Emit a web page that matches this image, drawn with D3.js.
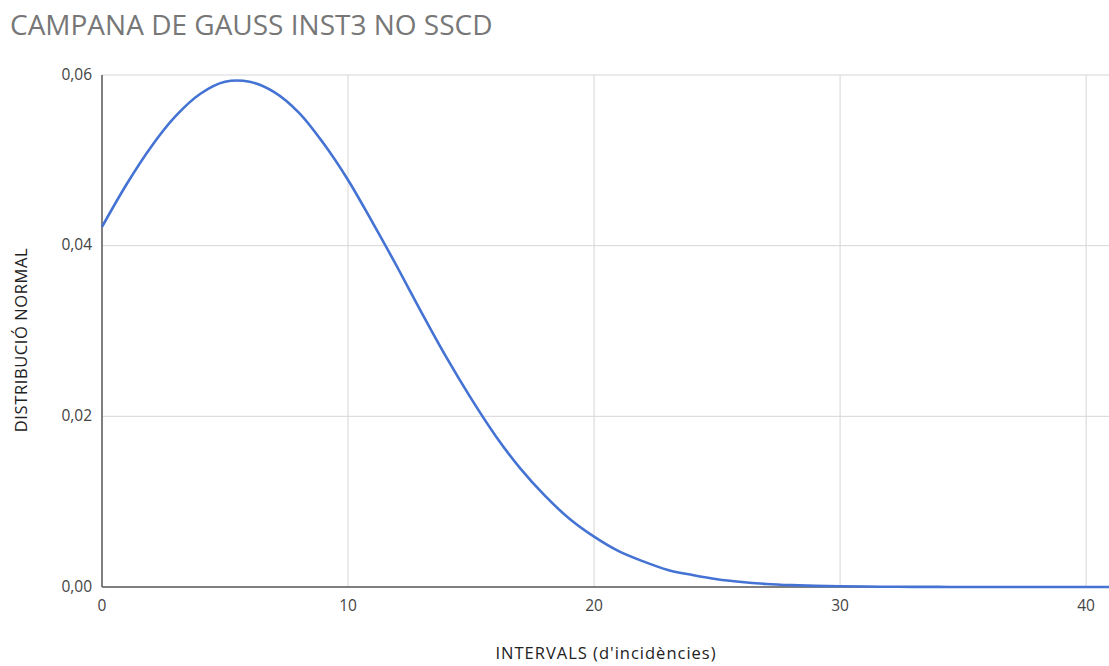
<!DOCTYPE html>
<html>
<head>
<meta charset="utf-8">
<script src="https://cdn.jsdelivr.net/npm/d3@7"></script>
<style>
  html, body { margin: 0; padding: 0; background: #fff; }
  svg { display: block; }
</style>
</head>
<body>
<svg id="chart" width="1109" height="666"></svg>
<script>
const title = "CAMPANA DE GAUSS INST3 NO SSCD";
const xTitle = "INTERVALS (d'incidències)";
const yTitle = "DISTRIBUCIÓ NORMAL";
const xValues = [0,1,2,3,4,5,6,7,8,9,10,11,12,13,14,15,16,17,18,19,20,21,22,23,24,25,26,27,28,29,30,31,32,33,34,35,36,37,38,39,40,41];
const yValues = [0.0422,0.0472,0.0516,0.0552,0.0578,0.0592,0.0592,0.0580,0.0556,0.0520,0.0477,0.0427,0.0375,0.0321,0.0269,0.0221,0.0177,0.0139,0.0107,0.0080,0.0059,0.0042,0.0030,0.0020,0.0014,0.0009,0.00058,0.00036,0.00022,0.00013,0.00008,0.00005,0.00003,0.00001,0.00001,0,0,0,0,0,0,0];
const xTicks = [0,10,20,30,40];
const yTicks = [0,0.02,0.04,0.06];

(function () {
const svg = d3.select("#chart");
const mLeft = 102, mRight = 1109, mTop = 75, mBottom = 587;
const x = d3.scaleLinear().domain([0, 40.93]).range([mLeft, mRight]);
const y = d3.scaleLinear().domain([0, 0.06]).range([mBottom, mTop]);
const fmt = v => d3.format(".2f")(v).replace(".", ",");
const font = "'Open Sans', Arial, sans-serif";

// gridlines
svg.append("g").selectAll("line").data(xTicks.filter(d => d > 0)).join("line")
  .attr("x1", d => x(d)).attr("x2", d => x(d)).attr("y1", mTop).attr("y2", mBottom)
  .attr("stroke", "#d6d6d6").attr("stroke-width", 1);
svg.append("g").selectAll("line").data(yTicks.filter(d => d > 0)).join("line")
  .attr("x1", mLeft).attr("x2", mRight).attr("y1", d => y(d)).attr("y2", d => y(d))
  .attr("stroke", "#d6d6d6").attr("stroke-width", 1);

// axes lines
svg.append("line").attr("x1", mLeft).attr("x2", mLeft).attr("y1", mTop).attr("y2", mBottom)
  .attr("stroke", "#555").attr("stroke-width", 1.5);
svg.append("line").attr("x1", mLeft).attr("x2", mRight).attr("y1", mBottom).attr("y2", mBottom)
  .attr("stroke", "#555").attr("stroke-width", 1.5);

// tick labels
svg.append("g").selectAll("text").data(yTicks).join("text")
  .attr("x", mLeft - 10).attr("y", d => y(d) + 4.5)
  .attr("text-anchor", "end").attr("font-family", font).attr("font-size", 15.5)
  .attr("fill", "#444").text(d => fmt(d));
svg.append("g").selectAll("text").data(xTicks).join("text")
  .attr("x", d => x(d)).attr("y", mBottom + 24)
  .attr("text-anchor", "middle").attr("font-family", font).attr("font-size", 15.5)
  .attr("fill", "#444").text(d => d);

// curve
const data = xValues.map((d, i) => ({x: d, y: yValues[i]}));
svg.append("path").datum(data)
  .attr("fill", "none").attr("stroke", "#4473d4").attr("stroke-width", 2.6)
  .attr("d", d3.line().x(d => x(d.x)).y(d => y(d.y)).curve(d3.curveCatmullRom));

// titles
svg.append("text").attr("x", 10).attr("y", 35)
  .attr("font-family", font).attr("font-size", 28).attr("fill", "#777")
  .text(title);
svg.append("text").attr("x", 606).attr("y", 659).attr("text-anchor", "middle")
  .attr("font-family", font).attr("font-size", 16.5).attr("letter-spacing", 1)
  .attr("fill", "#222").text(xTitle);
svg.append("text").attr("transform", "translate(27,340) rotate(-90)")
  .attr("text-anchor", "middle").attr("font-family", font).attr("font-size", 16.5)
  .attr("letter-spacing", 0.6)
  .attr("fill", "#222").text(yTitle);
})();
</script>
</body>
</html>
